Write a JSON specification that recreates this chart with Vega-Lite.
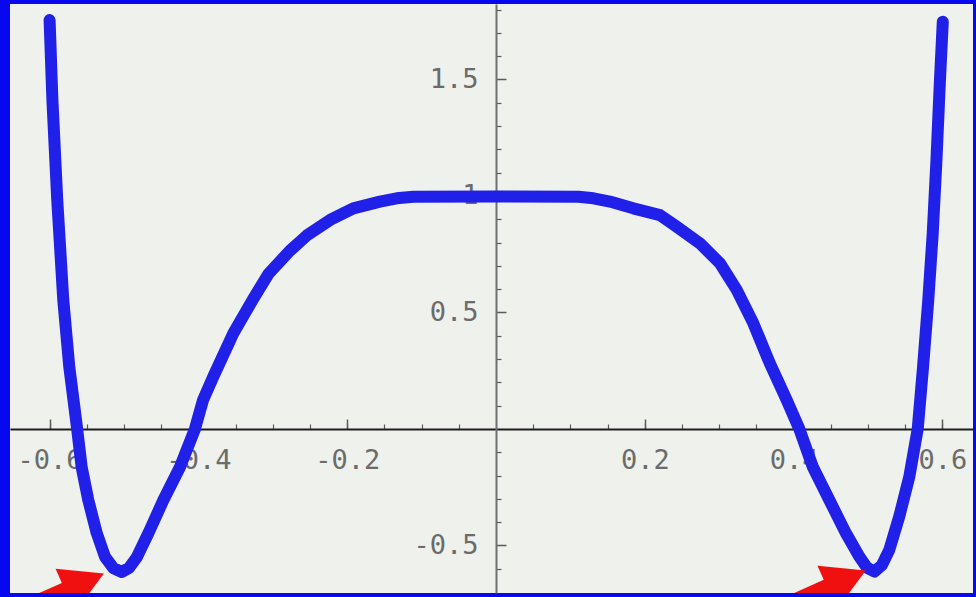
{
  "$schema": "https://vega.github.io/schema/vega-lite/v6.json",
  "width": 963,
  "height": 589,
  "autosize": {"type": "none"},
  "padding": {"left": 10, "top": 4, "right": 3, "bottom": 4},
  "background": "#0808f0",
  "config": {
    "view": {"fill": "#eef1ec", "stroke": null},
    "axis": {
      "grid": false,
      "title": null,
      "labelFont": "DejaVu Sans Mono",
      "labelFontSize": 27,
      "labelColor": "#6b6b6b",
      "tickColor": "#5a5a5a",
      "tickWidth": 1.5,
      "labelFlush": false,
      "labelOverlap": false
    }
  },
  "datasets": {
    "curve": [
      {"x": -0.6, "y": 1.755},
      {"x": -0.5962, "y": 1.412},
      {"x": -0.5897, "y": 0.983},
      {"x": -0.5816, "y": 0.554},
      {"x": -0.5735, "y": 0.266},
      {"x": -0.5636, "y": 0.017},
      {"x": -0.5569, "y": -0.163},
      {"x": -0.548, "y": -0.305},
      {"x": -0.5367, "y": -0.446},
      {"x": -0.5255, "y": -0.549},
      {"x": -0.514, "y": -0.598},
      {"x": -0.503, "y": -0.614},
      {"x": -0.493, "y": -0.596},
      {"x": -0.483, "y": -0.552},
      {"x": -0.467, "y": -0.446},
      {"x": -0.447, "y": -0.305},
      {"x": -0.4247, "y": -0.163},
      {"x": -0.4046, "y": 0.0},
      {"x": -0.3938, "y": 0.124},
      {"x": -0.38, "y": 0.224},
      {"x": -0.353, "y": 0.411},
      {"x": -0.326, "y": 0.56},
      {"x": -0.306, "y": 0.665},
      {"x": -0.277, "y": 0.765},
      {"x": -0.2544, "y": 0.83},
      {"x": -0.223, "y": 0.897},
      {"x": -0.1918, "y": 0.947},
      {"x": -0.156, "y": 0.976},
      {"x": -0.1335, "y": 0.99},
      {"x": -0.111, "y": 0.997},
      {"x": 0.0, "y": 0.998},
      {"x": 0.111, "y": 0.997},
      {"x": 0.131, "y": 0.99},
      {"x": 0.153, "y": 0.976},
      {"x": 0.1845, "y": 0.947},
      {"x": 0.2204, "y": 0.918},
      {"x": 0.243, "y": 0.868},
      {"x": 0.274, "y": 0.797},
      {"x": 0.301, "y": 0.711},
      {"x": 0.3235, "y": 0.597},
      {"x": 0.3458, "y": 0.454},
      {"x": 0.368, "y": 0.282},
      {"x": 0.3907, "y": 0.124},
      {"x": 0.4077, "y": 0.0},
      {"x": 0.4257, "y": -0.162},
      {"x": 0.448, "y": -0.305},
      {"x": 0.4704, "y": -0.448},
      {"x": 0.4884, "y": -0.548},
      {"x": 0.4985, "y": -0.595},
      {"x": 0.5085, "y": -0.612},
      {"x": 0.5185, "y": -0.585},
      {"x": 0.5286, "y": -0.519},
      {"x": 0.542, "y": -0.376},
      {"x": 0.5555, "y": -0.205},
      {"x": 0.5668, "y": 0.0},
      {"x": 0.574, "y": 0.267},
      {"x": 0.581, "y": 0.554},
      {"x": 0.587, "y": 0.841},
      {"x": 0.592, "y": 1.155},
      {"x": 0.5965, "y": 1.484},
      {"x": 0.6005, "y": 1.748}
    ],
    "arrows": [
      {"x": -0.527, "y": -0.62},
      {"x": 0.497, "y": -0.607}
    ]
  },
  "layer": [
    {
      "data": {"name": "curve"},
      "mark": {"type": "line", "opacity": 0},
      "encoding": {
        "x": {
          "field": "x", "type": "quantitative",
          "scale": {"domain": [-0.6532, 0.6411], "nice": false, "zero": false},
          "axis": {
            "orient": "bottom", "offset": -164, "domain": false, "labels": false,
            "tickSize": -5, "tickWidth": 1.2,
            "values": [-0.6, -0.55, -0.5, -0.45, -0.4, -0.35, -0.3, -0.25, -0.2, -0.15, -0.1, -0.05, 0.05, 0.1, 0.15, 0.2, 0.25, 0.3, 0.35, 0.4, 0.45, 0.5, 0.55, 0.6]
          }
        },
        "y": {
          "field": "y", "type": "quantitative",
          "scale": {"domain": [-0.704, 1.824], "nice": false, "zero": false},
          "axis": {
            "orient": "left", "offset": -486, "domain": false, "labels": false,
            "tickSize": -5, "tickWidth": 1.2,
            "values": [-0.6, -0.4, -0.3, -0.2, -0.1, 0.1, 0.2, 0.3, 0.4, 0.6, 0.7, 0.8, 0.9, 1.1, 1.2, 1.3, 1.4, 1.6, 1.7, 1.8]
          }
        }
      }
    },
    {
      "data": {"name": "curve"},
      "mark": {"type": "line", "color": "#2020e8", "strokeWidth": 12, "strokeCap": "round", "strokeJoin": "round", "clip": true},
      "encoding": {
        "x": {
          "field": "x", "type": "quantitative",
          "scale": {"domain": [-0.6532, 0.6411], "nice": false, "zero": false},
          "axis": {
            "orient": "bottom", "offset": -164,
            "domainColor": "#1e1e1e", "domainWidth": 2,
            "tickSize": -10, "labelPadding": 28,
            "values": [-0.6, -0.4, -0.2, 0.2, 0.4, 0.6],
            "labelExpr": "toString(datum.value)"
          }
        },
        "y": {
          "field": "y", "type": "quantitative",
          "scale": {"domain": [-0.704, 1.824], "nice": false, "zero": false},
          "axis": {
            "orient": "left", "offset": -486,
            "domainColor": "#707070", "domainWidth": 2,
            "tickSize": -10, "labelPadding": 28,
            "values": [-0.5, 0.5, 1, 1.5],
            "labelExpr": "toString(datum.value)"
          }
        }
      }
    },
    {
      "data": {"name": "arrows"},
      "mark": {
        "type": "point",
        "shape": "M0,0 L-2.3,-1.3 L-2.3,-0.46 L-7,-0.46 L-7,0.46 L-2.3,0.46 L-2.3,1.3 Z",
        "filled": true, "color": "#f01010", "opacity": 1, "strokeWidth": 0,
        "size": 1350, "angle": -24, "clip": true
      },
      "encoding": {
        "x": {"field": "x", "type": "quantitative", "scale": {"domain": [-0.6532, 0.6411], "nice": false, "zero": false}, "axis": null},
        "y": {"field": "y", "type": "quantitative", "scale": {"domain": [-0.704, 1.824], "nice": false, "zero": false}, "axis": null}
      }
    }
  ],
  "resolve": {
    "scale": {"x": "independent", "y": "independent"},
    "axis": {"x": "independent", "y": "independent"}
  }
}
